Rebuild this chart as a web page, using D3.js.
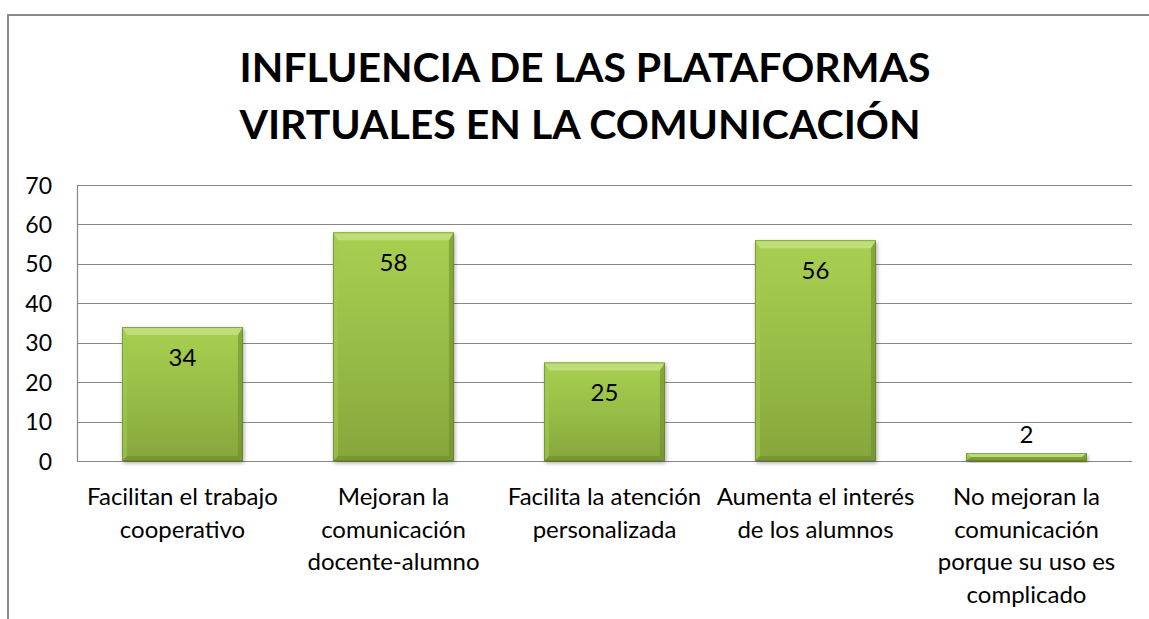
<!DOCTYPE html>
<html><head><meta charset="utf-8">
<script src="https://cdn.jsdelivr.net/npm/d3@7"></script>
<style>html,body{margin:0;padding:0;background:#fff;}svg{display:block;}</style>
</head><body>
<svg id="chart" width="1149" height="619"></svg>
<script>
const titleLines = ["INFLUENCIA DE LAS PLATAFORMAS", "VIRTUALES EN LA COMUNICACIÓN"];
const categories = ["Facilitan el trabajo cooperativo", "Mejoran la comunicación docente-alumno", "Facilita la atención personalizada", "Aumenta el interés de los alumnos", "No mejoran la comunicación porque su uso es complicado"];
const categoryLines = [["Facilitan el trabajo", "cooperativo"], ["Mejoran la", "comunicación", "docente-alumno"], ["Facilita la atención", "personalizada"], ["Aumenta el interés", "de los alumnos"], ["No mejoran la", "comunicación", "porque su uso es", "complicado"]];
const values = [34, 58, 25, 56, 2];
const yTicks = [0, 10, 20, 30, 40, 50, 60, 70];

const FONT = "Lato, 'Open Sans', sans-serif";
const svg = d3.select("#chart");
const plot = {left: 77, right: 1132, top: 185, bottom: 461};

// outer chart frame (left and top edges visible; rest cropped)
svg.append("path").attr("d", "M8,619 V15 H1149")
  .attr("fill", "none").attr("stroke", "#8a8a8a").attr("stroke-width", 2);

const defs = svg.append("defs");
const g1 = defs.append("linearGradient").attr("id", "face").attr("x1", 0).attr("y1", 0).attr("x2", 0).attr("y2", 1);
g1.append("stop").attr("offset", "0%").attr("stop-color", "#a9cf52");
g1.append("stop").attr("offset", "50%").attr("stop-color", "#98bd47");
g1.append("stop").attr("offset", "100%").attr("stop-color", "#86a63c");
const sh = defs.append("filter").attr("id", "shadow").attr("x", "-10%").attr("y", "-10%").attr("width", "130%").attr("height", "130%");
sh.append("feGaussianBlur").attr("in", "SourceAlpha").attr("stdDeviation", 2);
sh.append("feOffset").attr("dx", 1).attr("dy", 2).attr("result", "b");
sh.append("feComponentTransfer").append("feFuncA").attr("type", "linear").attr("slope", 0.35);
const fm = sh.append("feMerge"); fm.append("feMergeNode"); fm.append("feMergeNode").attr("in", "SourceGraphic");

// title
svg.append("g").selectAll("text").data(titleLines).join("text")
  .attr("x", (d, i) => i === 0 ? 585 : 580).attr("y", (d, i) => 82 + i * 57)
  .attr("text-anchor", "middle").attr("font-family", FONT).attr("font-weight", "bold")
  .attr("font-size", 41).attr("fill", "#000").text(d => d);

const x = d3.scaleBand().domain(categories).range([plot.left, plot.right]).paddingInner(0.427).paddingOuter(0.2135);
const y = d3.scaleLinear().domain([0, 70]).range([plot.bottom, plot.top]);

// gridlines
svg.append("g").selectAll("line").data(yTicks).join("line")
  .attr("x1", plot.left).attr("x2", plot.right)
  .attr("y1", d => Math.round(y(d)) + 0.5).attr("y2", d => Math.round(y(d)) + 0.5)
  .attr("stroke", "#878787").attr("stroke-width", 1.2);
svg.append("line").attr("x1", plot.left + 0.5).attr("x2", plot.left + 0.5)
  .attr("y1", y(70)).attr("y2", y(0)).attr("stroke", "#878787").attr("stroke-width", 1.2);

// y axis labels
const yAxis = d3.axisLeft(y).tickValues(yTicks).tickSize(0).tickPadding(25);
const ya = svg.append("g").attr("transform", `translate(${plot.left},0)`).call(yAxis);
ya.select(".domain").remove();
ya.selectAll("text").attr("font-family", FONT).attr("font-size", 23).attr("fill", "#000").attr("dy", "0.35em");

// bars
const bars = svg.append("g").selectAll("g").data(values).join("g").attr("filter", "url(#shadow)");
bars.each(function(v, i) {
  const gx = d3.select(this);
  const x0 = x(categories[i]), x1 = x0 + x.bandwidth();
  const y0 = y(v), y1 = y(0);
  const h = y1 - y0;
  const bt = Math.min(8, h / 2), bs = Math.min(5, (x1 - x0) / 2), bb = Math.min(5, h / 2);
  gx.append("rect").attr("x", x0).attr("y", y0).attr("width", x1 - x0).attr("height", h).attr("fill", "url(#face)");
  gx.append("polygon").attr("points", [[x0, y0], [x1, y0], [x1 - bs, y0 + bt], [x0 + bs, y0 + bt]].join(" ")).attr("fill", "#c3e07e").attr("opacity", 0.85);
  gx.append("polygon").attr("points", [[x0, y0], [x0 + bs, y0 + bt], [x0 + bs, y1 - bb], [x0, y1]].join(" ")).attr("fill", "#a4c950").attr("opacity", 0.6);
  gx.append("polygon").attr("points", [[x1, y0], [x1 - bs, y0 + bt], [x1 - bs, y1 - bb], [x1, y1]].join(" ")).attr("fill", "#6f8e2c").attr("opacity", 0.6);
  gx.append("polygon").attr("points", [[x0, y1], [x0 + bs, y1 - bb], [x1 - bs, y1 - bb], [x1, y1]].join(" ")).attr("fill", "#6b8a2a").attr("opacity", 0.55);
  gx.append("rect").attr("x", x0 + 0.5).attr("y", y0 + 0.5).attr("width", x1 - x0 - 1).attr("height", h - 1)
    .attr("fill", "none").attr("stroke", "#5f7a25").attr("stroke-width", 0.8).attr("opacity", 0.7);
});

// data labels
svg.append("g").selectAll("text").data(values).join("text")
  .attr("x", (d, i) => x(categories[i]) + x.bandwidth() / 2)
  .attr("y", d => (y(0) - y(d) > 45) ? y(d) + 39 : y(d) - 10)
  .attr("text-anchor", "middle").attr("font-family", FONT).attr("font-size", 24).attr("fill", "#000")
  .text(d => d);

// category labels
const xa = svg.append("g");
categoryLines.forEach((lines, i) => {
  const t = xa.append("text").attr("text-anchor", "middle").attr("font-family", FONT).attr("font-size", 24).attr("fill", "#000");
  lines.forEach((ln, j) => {
    t.append("tspan").attr("x", x(categories[i]) + x.bandwidth() / 2).attr("y", 505 + j * 32.7).text(ln);
  });
});
</script>
</body></html>
